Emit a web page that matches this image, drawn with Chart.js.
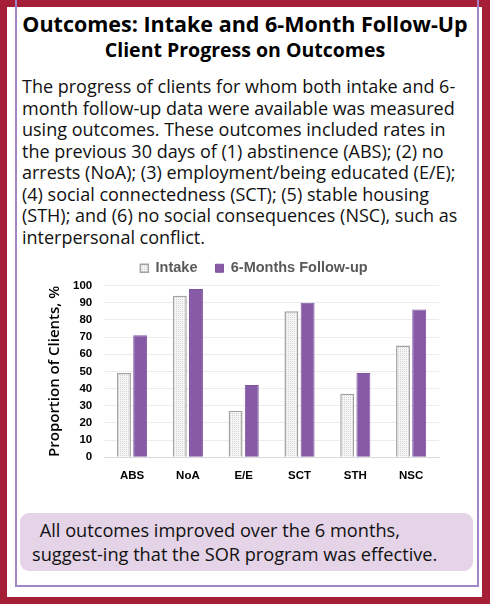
<!DOCTYPE html>
<html>
<head>
<meta charset="utf-8">
<script src="https://cdn.jsdelivr.net/npm/chart.js@4.4.1/dist/chart.umd.min.js"></script>
<style>
  html, body { margin:0; padding:0; }
  body { width:490px; height:604px; position:relative; overflow:hidden; background:#a51f37; font-family:"Open Sans", sans-serif; }
  #white { position:absolute; left:7px; top:7px; width:475px; height:590px; background:#fff; }
  #inner { position:absolute; left:15px; top:0px; width:460px; height:585px; border-left:2px solid #a285c9; border-right:2px solid #a285c9; border-bottom:2px solid #a285c9; }
  .title { position:absolute; left:0; width:490px; text-align:center; font-weight:700; color:#000; white-space:nowrap; }
  #t1 { top:8.5px; font-size:21.5px; }
  #t2 { top:35.5px; font-size:19.5px; }
  #body { position:absolute; left:22px; top:76px; font-size:18px; line-height:21.5px; color:#111; white-space:pre; }
  #callout { position:absolute; left:20px; top:513px; width:453px; height:58px; background:#e5d4e7; border-radius:9px; }
  #callout div { position:absolute; font-size:18.2px; white-space:pre; color:#111; }
  #cv { position:absolute; left:0; top:243px; }
</style>
</head>
<body>
<div id="white"></div>
<div id="inner"></div>
<div class="title" id="t1">Outcomes: Intake and 6-Month Follow-Up</div>
<div class="title" id="t2">Client Progress on Outcomes</div>
<div id="body">The progress of clients for whom both intake and 6-
month follow-up data were available was measured
using outcomes. These outcomes included rates in
the previous 30 days of (1) abstinence (ABS); (2) no
arrests (NoA); (3) employment/being educated (E/E);
(4) social connectedness (SCT); (5) stable housing
(STH); and (6) no social consequences (NSC), such as
interpersonal conflict.</div>
<div id="callout">
  <div style="left:15px; top:5px;"> All outcomes improved over the 6 months,</div>
  <div style="left:12px; top:29px;">suggest-ing that the SOR program was effective.</div>
</div>
<canvas id="cv" width="490" height="250"></canvas>
<script>
const categories = ["ABS", "NoA", "E/E", "SCT", "STH", "NSC"];
const intakeValues = [49, 94, 27, 85, 37, 65];
const followUpValues = [71, 98, 42, 90, 49, 86];
const seriesNames = ["Intake", "6-Months Follow-up"];
const yTicks = [0, 10, 20, 30, 40, 50, 60, 70, 80, 90, 100];
const yTitle = "Proportion of Clients, %";

function dotPattern() {
  const c = document.createElement('canvas');
  c.width = 2; c.height = 2;
  const g = c.getContext('2d');
  g.fillStyle = '#f6f6f6'; g.fillRect(0,0,2,2);
  g.fillStyle = '#d2d2d2';
  g.fillRect(0,0,1,1);
  return g.createPattern(c, 'repeat');
}
const ctx = document.getElementById('cv').getContext('2d');
const pat = dotPattern();

const legendShift = {
  id: 'legendShift',
  afterLayout(chart) {
    const lg = chart.legend;
    if (lg) { lg.left += 17; lg.right += 17; }
  }
};

new Chart(ctx, {
  type: 'bar',
  data: {
    labels: categories,
    datasets: [
      { label: seriesNames[0], data: intakeValues, backgroundColor: pat, borderColor: '#a3a3a3', borderWidth: 1.5 },
      { label: seriesNames[1], data: followUpValues, backgroundColor: '#875aa6', borderColor: '#7f53a0', borderWidth: 1 }
    ]
  },
  plugins: [legendShift],
  options: {
    responsive: false,
    animation: false,
    devicePixelRatio: 1,
    layout: { padding: { left: 35, right: 51, top: 0, bottom: 6 } },
    datasets: { bar: { categoryPercentage: 0.58, barPercentage: 0.86 } },
    plugins: {
      legend: {
        position: 'top',
        labels: {
          boxWidth: 8, boxHeight: 8, padding: 18,
          color: '#595959',
          font: { family: 'Liberation Sans, Arial', size: 14.5, weight: 'bold' }
        }
      },
      tooltip: { enabled: false }
    },
    scales: {
      x: {
        grid: { display: false },
        border: { color: '#d9d9d9' },
        ticks: { color: '#000', font: { family: 'Liberation Sans, Arial', size: 11.5, weight: 'bold' }, padding: 4 }
      },
      y: {
        min: 0, max: 100,
        afterBuildTicks: (s) => { s.ticks = yTicks.map(v => ({ value: v })); },
        grid: { color: '#ececec', drawTicks: false },
        border: { display: false },
        ticks: { autoSkip: false, color: '#000', font: { family: 'Liberation Sans, Arial', size: 11.5, weight: 'bold' }, padding: 12 },
        title: { display: true, text: yTitle, color: '#000', font: { family: 'Open Sans', size: 15, weight: '600' }, padding: { top: 11, bottom: -3 } }
      }
    }
  }
});
</script>
</body>
</html>
